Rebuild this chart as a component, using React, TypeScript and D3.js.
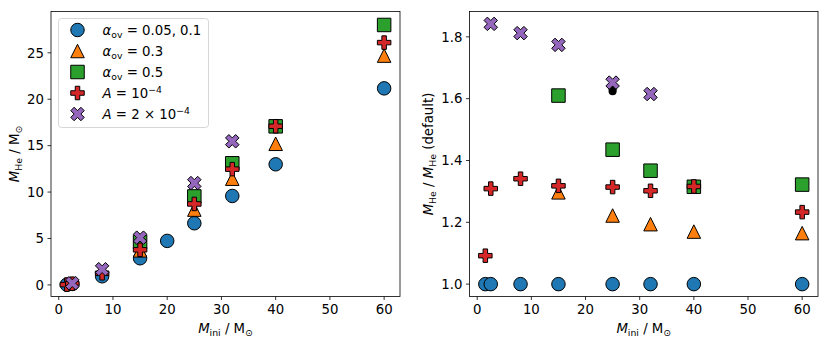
import React from "react";
import * as d3 from "d3";

// ---------- data ----------
const circleMassesLeft = [1.5, 2.5, 8, 15, 20, 25, 32, 40, 60];
const circleLeft = [0.03, 0.1, 0.93, 2.87, 4.74, 6.64, 9.58, 12.99, 21.17];
const triMasses = [15, 25, 32, 40, 60];
const triLeft = [3.72, 8.11, 11.44, 15.2, 24.7];
const sqMasses = [15, 25, 32, 40, 60];
const sqLeft = [4.62, 9.53, 13.1, 17.08, 28.0];
const plusMasses = [1.5, 2.5, 8, 15, 25, 32, 40, 60];
const plusLeft = [0.03, 0.13, 1.25, 3.78, 8.72, 12.47, 17.09, 26.1];
const xMasses = [2.5, 8, 15, 25, 32];
const xLeft = [0.18, 1.69, 5.09, 10.97, 15.47];

const circleMassesRight = [1.5, 2.5, 8, 15, 25, 32, 40, 60];
const circleRight = [1.0, 1.0, 1.0, 1.0, 1.0, 1.0, 1.0, 1.0];
const triRight = [1.297, 1.222, 1.194, 1.17, 1.165];
const sqRight = [1.61, 1.435, 1.367, 1.315, 1.322];
const plusRight = [1.092, 1.309, 1.341, 1.318, 1.314, 1.302, 1.316, 1.233];
const xRight = [1.842, 1.812, 1.774, 1.652, 1.615];
const blackMass = [25];
const blackRight = [1.624];

const xTicks = [0, 10, 20, 30, 40, 50, 60];
const yTicksLeft = [0, 5, 10, 15, 20, 25];
const yTicksRight = [1.0, 1.2, 1.4, 1.6, 1.8];

const COLORS = {
  circle: "#1f77b4",
  tri: "#ff7f0e",
  sq: "#2ca02c",
  plus: "#d62728",
  x: "#9467bd",
};

const FONT = "DejaVu Sans, Verdana, sans-serif";
const FS = 13.3;
const MS = 13.5;

type Shape = "circle" | "tri" | "sq" | "plus" | "x";

// unit marker outlines (matplotlib definitions, extent +-0.5)
const unitShapes: Record<string, [number, number][]> = {
  tri: [[0, 1], [-1, -1], [1, -1]].map(([a, b]) => [a * 0.5, b * 0.5]) as [number, number][],
  sq: [[-0.5, -0.5], [0.5, -0.5], [0.5, 0.5], [-0.5, 0.5]],
  plus: ([
    [-1, -3], [1, -3], [1, -1], [3, -1], [3, 1], [1, 1],
    [1, 3], [-1, 3], [-1, 1], [-3, 1], [-3, -1], [-1, -1],
  ] as [number, number][]).map(([a, b]) => [a / 6, b / 6]) as [number, number][],
  x: ([
    [-1, -2], [0, -1], [1, -2], [2, -1], [1, 0], [2, 1],
    [1, 2], [0, 1], [-1, 2], [-2, 1], [-1, 0], [-2, -1],
  ] as [number, number][]).map(([a, b]) => [a / 4, b / 4]) as [number, number][],
};

function markerPath(shape: Shape, cx: number, cy: number, size: number): string {
  const p = d3.path();
  if (shape === "circle") {
    p.moveTo(cx + size / 2, cy);
    p.arc(cx, cy, size / 2, 0, Math.PI * 2);
    p.closePath();
    return p.toString();
  }
  const pts = unitShapes[shape];
  pts.forEach(([a, b], i) => {
    const px = cx + a * size;
    const py = cy - b * size;
    if (i === 0) p.moveTo(px, py);
    else p.lineTo(px, py);
  });
  p.closePath();
  return p.toString();
}

function Marker({ shape, cx, cy, size = MS, fill }: { shape: Shape; cx: number; cy: number; size?: number; fill?: string }) {
  return (
    <path
      d={markerPath(shape, cx, cy, size)}
      fill={fill ?? COLORS[shape]}
      stroke="#000"
      strokeWidth={1}
      strokeLinejoin="miter"
    />
  );
}

type Series = { shape: Shape; xs: number[]; ys: number[] };

function Panel({
  xRange,
  yDomain,
  yTicks,
  fmt,
  series,
  extra,
  yLabel,
  yLabelX,
}: {
  xRange: [number, number];
  yDomain: [number, number];
  yTicks: number[];
  fmt: (v: number) => string;
  series: Series[];
  extra?: React.ReactNode;
  yLabel: React.ReactNode;
  yLabelX: number;
}) {
  const top = 11.5;
  const bottom = 296.5;
  const x = d3.scaleLinear().domain([-1.425, 62.925]).range(xRange);
  const y = d3.scaleLinear().domain(yDomain).range([bottom, top]);
  const [x0, x1] = xRange;
  const cxLabel = (x0 + x1) / 2;
  const cyLabel = (top + bottom) / 2;
  return (
    <g>
      {series.map((s, si) => (
        <g key={si}>
          {s.xs.map((m, i) => (
            <Marker key={i} shape={s.shape} cx={x(m)} cy={y(s.ys[i])} />
          ))}
          {si === series.length - 2 && extra ? extra : null}
        </g>
      ))}
      <rect x={x0} y={top} width={x1 - x0} height={bottom - top} fill="none" stroke="#000" strokeWidth={0.8} />
      {xTicks.map((t) => (
        <g key={"x" + t}>
          <line x1={x(t)} x2={x(t)} y1={bottom} y2={bottom + 3.5} stroke="#000" strokeWidth={0.8} />
          <text x={x(t)} y={bottom + 17.5} textAnchor="middle" fontSize={FS} fontFamily={FONT}>
            {t}
          </text>
        </g>
      ))}
      {yTicks.map((t) => (
        <g key={"y" + t}>
          <line x1={x0 - 3.5} x2={x0} y1={y(t)} y2={y(t)} stroke="#000" strokeWidth={0.8} />
          <text x={x0 - 7} y={y(t) + 4.8} textAnchor="end" fontSize={FS} fontFamily={FONT}>
            {fmt(t)}
          </text>
        </g>
      ))}
      <text x={cxLabel} y={333} textAnchor="middle" fontSize={FS} fontFamily={FONT}>
        <tspan fontStyle="italic">M</tspan>
        <tspan fontSize={FS * 0.7} dy={3}>ini</tspan>
        <tspan dy={-3}> / M</tspan>
        <tspan fontSize={FS * 0.7} dy={3}>⊙</tspan>
      </text>
      <text
        transform={`translate(${yLabelX},${cyLabel}) rotate(-90)`}
        textAnchor="middle"
        fontSize={FS}
        fontFamily={FONT}
      >
        {yLabel}
      </text>
    </g>
  );
}

function Legend() {
  const bx = 58.5;
  const by = 18.5;
  const rows: { shape: Shape; label: React.ReactNode }[] = [
    {
      shape: "circle",
      label: (
        <>
          <tspan fontStyle="italic">α</tspan>
          <tspan fontSize={FS * 0.7} dy={3}>ov</tspan>
          <tspan dy={-3}> = 0.05, 0.1</tspan>
        </>
      ),
    },
    {
      shape: "tri",
      label: (
        <>
          <tspan fontStyle="italic">α</tspan>
          <tspan fontSize={FS * 0.7} dy={3}>ov</tspan>
          <tspan dy={-3}> = 0.3</tspan>
        </>
      ),
    },
    {
      shape: "sq",
      label: (
        <>
          <tspan fontStyle="italic">α</tspan>
          <tspan fontSize={FS * 0.7} dy={3}>ov</tspan>
          <tspan dy={-3}> = 0.5</tspan>
        </>
      ),
    },
    {
      shape: "plus",
      label: (
        <>
          <tspan fontStyle="italic">A</tspan>
          <tspan> = 10</tspan>
          <tspan fontSize={FS * 0.7} dy={-5}>−4</tspan>
        </>
      ),
    },
    {
      shape: "x",
      label: (
        <>
          <tspan fontStyle="italic">A</tspan>
          <tspan> = 2 × 10</tspan>
          <tspan fontSize={FS * 0.7} dy={-5}>−4</tspan>
        </>
      ),
    },
  ];
  return (
    <g>
      <rect
        x={bx}
        y={by}
        width={150}
        height={109}
        rx={3}
        fill="#fff"
        fillOpacity={0.8}
        stroke="#cccccc"
        strokeWidth={0.8}
      />
      {rows.map((r, i) => {
        const cy = 30 + i * 21;
        return (
          <g key={i}>
            <Marker shape={r.shape} cx={77.5} cy={cy} />
            <text x={102.5} y={cy + 4.8} fontSize={FS} fontFamily={FONT}>
              {r.label}
            </text>
          </g>
        );
      })}
    </g>
  );
}

export default function App() {
  const leftSeries: Series[] = [
    { shape: "circle", xs: circleMassesLeft, ys: circleLeft },
    { shape: "tri", xs: triMasses, ys: triLeft },
    { shape: "sq", xs: sqMasses, ys: sqLeft },
    { shape: "plus", xs: plusMasses, ys: plusLeft },
    { shape: "x", xs: xMasses, ys: xLeft },
  ];
  const rightSeries: Series[] = [
    { shape: "circle", xs: circleMassesRight, ys: circleRight },
    { shape: "tri", xs: triMasses, ys: triRight },
    { shape: "sq", xs: sqMasses, ys: sqRight },
    { shape: "plus", xs: plusMasses, ys: plusRight },
    { shape: "x", xs: xMasses, ys: xRight },
  ];
  const xR = d3.scaleLinear().domain([-1.425, 62.925]).range([469.5, 818]);
  const yR = d3.scaleLinear().domain([0.96, 1.882]).range([296.5, 11.5]);
  const extra = (
    <g>
      {blackMass.map((m, i) => (
        <g key={i}>
          <circle cx={xR(m)} cy={yR(blackRight[i])} r={4} fill="#000" />
          <path d={markerPath("plus", xR(m), yR(blackRight[i]) - 2, 8)} fill="#000" />
        </g>
      ))}
    </g>
  );
  return (
    <svg width={830} height={345} style={{ position: "absolute", left: 0, top: 0, background: "#fff" }}>
      <Panel
        xRange={[51, 400]}
        yDomain={[-1.25, 29.45]}
        yTicks={yTicksLeft}
        fmt={(v) => String(v)}
        series={leftSeries}
        yLabelX={18.5}
        yLabel={
          <>
            <tspan fontStyle="italic">M</tspan>
            <tspan fontSize={FS * 0.7} dy={3}>He</tspan>
            <tspan dy={-3}> / M</tspan>
            <tspan fontSize={FS * 0.7} dy={3}>⊙</tspan>
          </>
        }
      />
      <Legend />
      <Panel
        xRange={[469.5, 818]}
        yDomain={[0.96, 1.882]}
        yTicks={yTicksRight}
        fmt={(v) => v.toFixed(1)}
        series={rightSeries}
        extra={extra}
        yLabelX={432.5}
        yLabel={
          <>
            <tspan fontStyle="italic">M</tspan>
            <tspan fontSize={FS * 0.7} dy={3}>He</tspan>
            <tspan dy={-3}> / </tspan>
            <tspan fontStyle="italic">M</tspan>
            <tspan fontSize={FS * 0.7} dy={3}>He</tspan>
            <tspan dy={-3}> (default)</tspan>
          </>
        }
      />
    </svg>
  );
}
